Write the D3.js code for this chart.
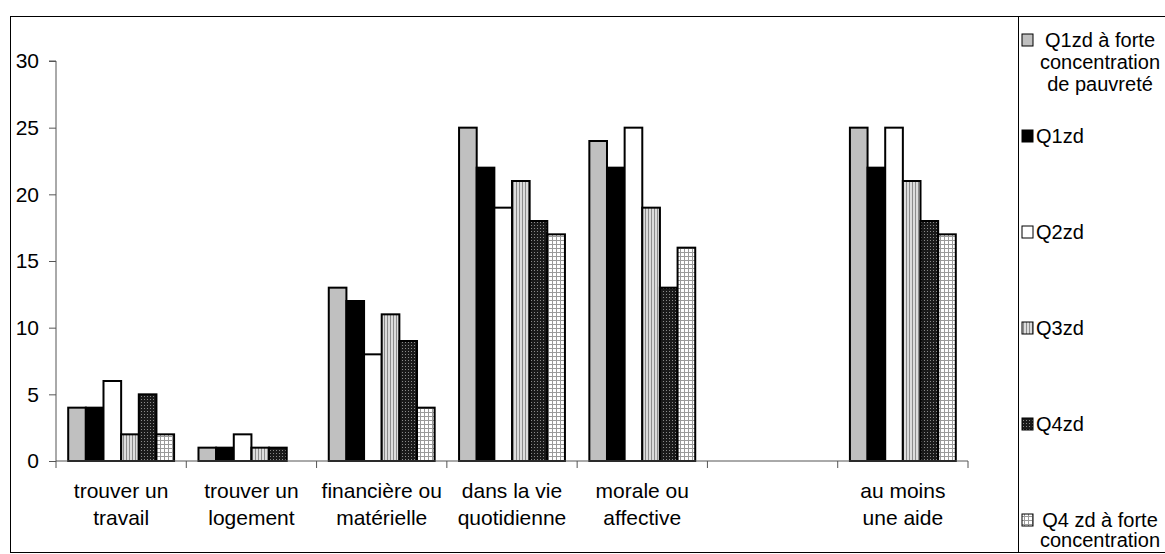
<!DOCTYPE html>
<html><head><meta charset="utf-8">
<script src="https://cdn.jsdelivr.net/npm/d3@7"></script>
<style>body{margin:0;background:#fff;overflow:hidden} svg{display:block} text{font-family:"Liberation Sans",Arial,sans-serif;fill:#000}</style>
</head><body><svg id="c" width="1165" height="554"></svg>
<script>
const categories = [["trouver un","travail"],["trouver un","logement"],["financière ou","matérielle"],["dans la vie","quotidienne"],["morale ou","affective"],["",""],["au moins","une aide"]];
const seriesNames = [["Q1zd à forte","concentration","de pauvreté"],["Q1zd"],["Q2zd"],["Q3zd"],["Q4zd"],["Q4 zd à forte","concentration","de pauvreté"]];
const q1forte = [4,1,13,25,24,null,25];
const q1 = [4,1,12,22,22,null,22];
const q2 = [6,2,8,19,25,null,25];
const q3 = [2,1,11,21,19,null,21];
const q4 = [5,1,9,18,13,null,18];
const q4forte = [2,0,4,17,16,null,17];
const yTicks = [0,5,10,15,20,25,30];

const series = [q1forte,q1,q2,q3,q4,q4forte];
const svg = d3.select("#c");
const defs = svg.append("defs");
const p3 = defs.append("pattern").attr("id","pStripe").attr("patternUnits","userSpaceOnUse").attr("width",3).attr("height",3);
p3.append("rect").attr("width",3).attr("height",3).attr("fill","#dcdcdc");
p3.append("rect").attr("width",1).attr("height",3).attr("fill","#8c8c8c");
const p4 = defs.append("pattern").attr("id","pDots").attr("patternUnits","userSpaceOnUse").attr("width",3).attr("height",3);
p4.append("rect").attr("width",3).attr("height",3).attr("fill","#1a1a1a");
p4.append("rect").attr("width",1).attr("height",1).attr("fill","#8a8a8a");
const p5 = defs.append("pattern").attr("id","pGrid").attr("patternUnits","userSpaceOnUse").attr("width",4).attr("height",4);
p5.append("rect").attr("width",4).attr("height",4).attr("fill","#ffffff");
p5.append("rect").attr("width",1).attr("height",4).attr("fill","#9a9a9a");
p5.append("rect").attr("width",4).attr("height",1).attr("fill","#9a9a9a");
const fills = ["#c0c0c0","#000000","#ffffff","url(#pStripe)","url(#pDots)","url(#pGrid)"];

const W = 1165, H = 554;
const left=56, right=968, top0=61, bottom0=461;
const x = d3.scaleBand().domain(d3.range(categories.length)).range([left,right]).paddingInner(0).paddingOuter(0);
const x1 = d3.scaleBand().domain(d3.range(series.length)).range([12.2, x.bandwidth()-12.2]).padding(0);
const y = d3.scaleLinear().domain([0,30]).range([bottom0,top0]);

svg.append("rect").attr("x",10.5).attr("y",16.5).attr("width",1400).attr("height",536).attr("fill","none").attr("stroke","#000").attr("stroke-width",1);
svg.append("line").attr("x1",1018.5).attr("x2",1018.5).attr("y1",16.5).attr("y2",552.5).attr("stroke","#000");

series.forEach((s,i)=>{
  svg.append("g").selectAll("rect").data(s.map((v,j)=>({v,j})).filter(d=>d.v!==null && d.v>0)).join("rect")
    .attr("x",d=>x(d.j)+x1(i)).attr("width",x1.bandwidth())
    .attr("y",d=>y(d.v)).attr("height",d=>y(0)-y(d.v))
    .attr("fill",fills[i]).attr("stroke","#000").attr("stroke-width",2);
});

const ya = svg.append("g").attr("transform",`translate(${left},0)`).call(d3.axisLeft(y).tickValues(yTicks).tickSize(7).tickPadding(10));
ya.select(".domain").attr("stroke","#555").attr("d",`M-7,${top0}H0V${bottom0}`);
ya.selectAll(".tick line").attr("stroke","#555");
ya.selectAll("text").attr("font-size",21).attr("font-family","Liberation Sans, Arial, sans-serif").attr("fill","#000");

const xa = svg.append("g").attr("transform",`translate(0,${bottom0})`);
xa.append("line").attr("x1",left).attr("x2",right).attr("stroke","#555");
const bounds = d3.range(categories.length+1).map(i=> i<categories.length ? x(i) : x(i-1)+x.bandwidth());
xa.selectAll(".t").data(bounds).join("line").attr("x1",d=>d).attr("x2",d=>d).attr("y1",0).attr("y2",7).attr("stroke","#555");
categories.forEach((c,i)=>{
  const t = svg.append("text").attr("text-anchor","middle").attr("font-size",21).attr("x",x(i)+x.bandwidth()/2);
  t.append("tspan").attr("x",x(i)+x.bandwidth()/2).attr("y",498).text(c[0]);
  t.append("tspan").attr("x",x(i)+x.bandwidth()/2).attr("y",525).text(c[1]);
});

// legend (lines falling outside the picture are clipped, as in the original)
const legY = [40,136,232,328,424,520];
const legGap = [22,22,22,22,22,20];
seriesNames.forEach((n,i)=>{
  svg.append("rect").attr("x",1022).attr("y",legY[i]-6).attr("width",11).attr("height",12).attr("fill",fills[i]).attr("stroke","#000").attr("stroke-width",1);
  const t = svg.append("text").attr("font-size",20).attr("text-anchor", n.length===1 ? "start" : "middle");
  n.forEach((line,k)=>{
    const yy = legY[i]+7+k*legGap[i];
    if (yy > H - 4) return;
    t.append("tspan").attr("x", n.length===1 ? 1036 : 1100).attr("y",yy).text(line);
  });
});
</script></body></html>
